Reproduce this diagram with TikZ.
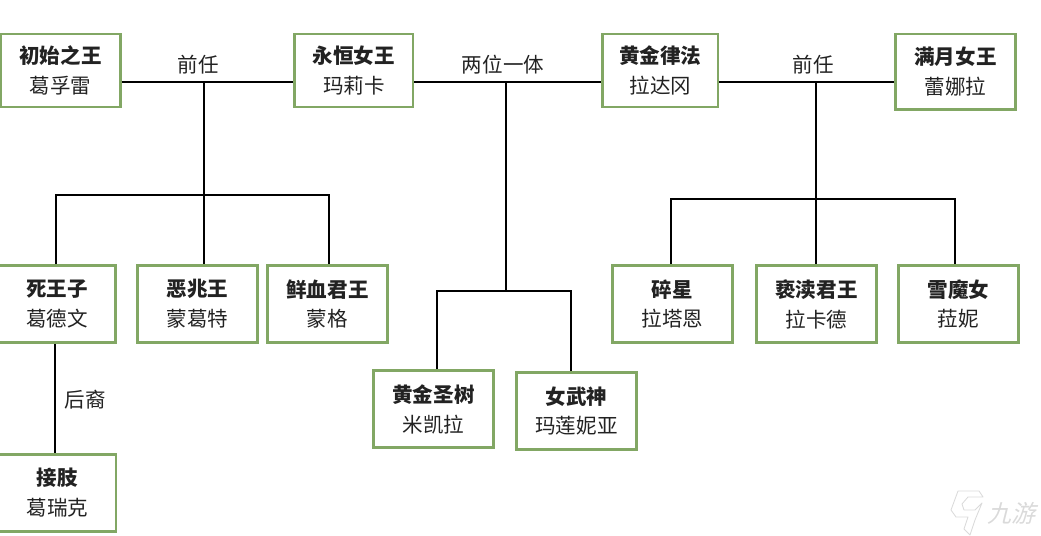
\documentclass[tikz,border=0pt]{standalone}
\usepackage{fontspec}
\setmainfont{Noto Sans CJK SC}
\newfontfamily\markfont[FakeSlant=0.25]{Noto Sans CJK SC}
\usepackage{tikz}
\usetikzlibrary{positioning}
\definecolor{boxgreen}{HTML}{82A764}
\definecolor{textgrey}{HTML}{222222}
\definecolor{markgrey}{HTML}{DADADA}
\tikzset{
    kingbox/.style={draw=boxgreen, line width=1.8pt, inner sep=0pt, minimum width=85pt, minimum height=54.9pt, align=center, text=textgrey,
        font=\fontsize{14.6pt}{21.3pt}\selectfont},
    toprow/.style={minimum height=52.2pt},
    tag/.style={inner sep=0pt, text=textgrey, font=\fontsize{14.6pt}{21.3pt}\selectfont},
    wire/.style={draw=black, line width=1.75pt},
}

\begin{document}
\begin{tikzpicture}[x=0.025cm, y=-0.025cm]
        \useasboundingbox (0, 0) rectangle (1041, 536);

        \node[kingbox, toprow] (first) at (60.5, 70.5) {\textbf{初始之王}\\葛孚雷};
        \node[kingbox, toprow, minimum width=84pt] (eternal) at (353.8, 70.5) {\textbf{永恒女王}\\玛莉卡};
        \node[kingbox, toprow, minimum width=82pt] (law) at (660.3, 70.5) {\textbf{黄金律法}\\拉达冈};
        \node[kingbox, minimum height=53.7pt] (moon) at (955.5, 71.7) {\textbf{满月女王}\\蕾娜拉};

        \node[kingbox, minimum width=83pt] (death) at (57, 304) {\textbf{死王子}\\葛德文};
        \node[kingbox] (omen) at (197.5, 304) {\textbf{恶兆王}\\蒙葛特};
        \node[kingbox] (blood) at (327.5, 304) {\textbf{鲜血君王}\\蒙格};
        \node[kingbox] (tree) at (433.5, 409) {\textbf{黄金圣树}\\米凯拉};
        \node[kingbox] (valkyrie) at (576.5, 411) {\textbf{女武神}\\玛莲妮亚};
        \node[kingbox] (star) at (672.5, 304) {\textbf{碎星}\\拉塔恩};
        \node[kingbox] (curse) at (816.5, 304) {\textbf{亵渎君王}\\拉卡德};
        \node[kingbox] (snow) at (958.5, 304) {\textbf{雪魔女}\\菈妮};
        \node[kingbox, minimum width=83pt] (graft) at (57.5, 493) {\textbf{接肢}\\葛瑞克};

        \node[tag] (prevleft) at (198, 65) {前任};
        \node[tag] (twoinone) at (503, 65) {两位一体};
        \node[tag] (prevright) at (813, 65) {前任};
        \node[tag] (heir) at (85, 400) {后裔};

        \coordinate (joinleft) at (204, 82);
        \coordinate (joinmid) at (506, 82);
        \coordinate (joinright) at (816, 82);
        \coordinate (forkdeath) at (56, 195);
        \coordinate (forkblood) at (329, 195);
        \coordinate (forktree) at (437, 291);
        \coordinate (forkvalkyrie) at (571, 291);
        \coordinate (forkstar) at (671, 199);
        \coordinate (forksnow) at (955, 199);
        \coordinate (heirdrop) at (55, 400);

        \draw[wire] (first.east |- joinleft) -- (eternal.west |- joinleft);
        \draw[wire] (eternal.east |- joinmid) -- (law.west |- joinmid);
        \draw[wire] (law.east |- joinright) -- (moon.west |- joinright);

        \draw[wire] (joinleft) -- (joinleft |- omen.north);
        \draw[wire] (joinmid) -- (joinmid |- forktree);
        \draw[wire] (joinright) -- (joinright |- curse.north);

        \draw[wire] (forkdeath |- death.north) -- (forkdeath) -- (forkblood) -- (forkblood |- blood.north);
        \draw[wire] (forktree |- tree.north) -- (forktree) -- (forkvalkyrie) -- (forkvalkyrie |- valkyrie.north);
        \draw[wire] (forkstar |- star.north) -- (forkstar) -- (forksnow) -- (forksnow |- snow.north);

        \draw[wire] (heirdrop |- death.south) -- (heirdrop |- graft.north);

        % watermark
        \draw[markgrey, line width=0.6pt, line join=round] (958, 491) -- (979, 491) -- (983, 497) -- (968, 497) -- (962, 504) -- (964, 510) -- (975, 510) -- (982, 503) -- (975, 520) -- (970, 535) -- (964, 529) -- (968, 517) -- (956, 517) -- (951, 510) -- cycle;
        \node[inner sep=0pt, text=markgrey, font=\markfont\fontsize{17pt}{17pt}\selectfont] (brand) at (1011, 513) {九游};
    \end{tikzpicture}
\end{document}
